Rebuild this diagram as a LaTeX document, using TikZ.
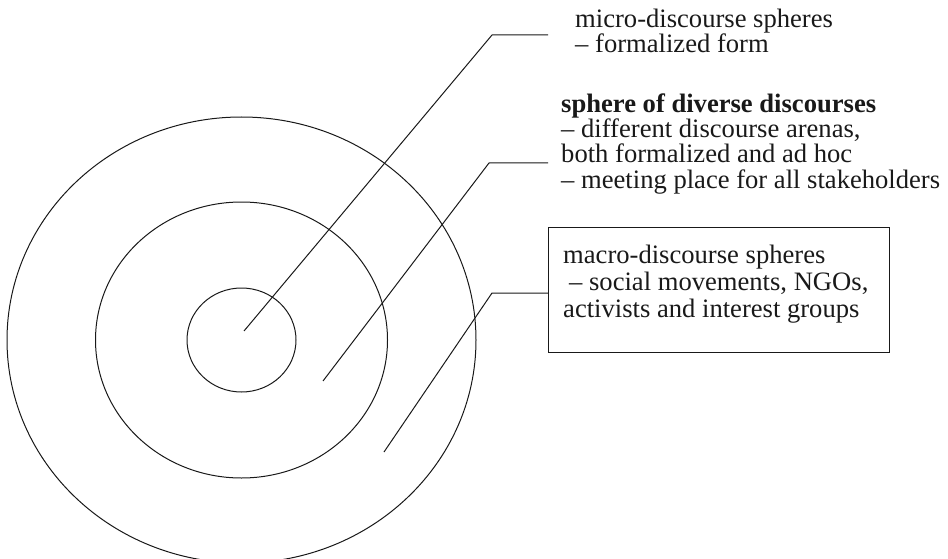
\documentclass[tikz,border=0pt]{standalone}
\usepackage{fontspec}
\setmainfont{Liberation Serif}
\begin{document}
\begin{tikzpicture}[x=1pt,y=-1pt,
  ln/.style={line width=1pt, draw=black!90},
  lbl/.style={anchor=base west, inner sep=0pt, align=left, text=black!90, font=\fontsize{26.6}{25.3}\selectfont},
  boxlbl/.style={lbl, font=\fontsize{26.6}{27}\selectfont}]
\useasboundingbox (0,0) rectangle (948,559);
% spheres
\draw[ln] (241.5,340) ellipse [x radius=234.5, y radius=223];
\draw[ln] (241.5,340) ellipse [x radius=146, y radius=138];
\draw[ln] (241.5,340) ellipse [x radius=54.5, y radius=52];
% labels (anchored at the baseline of their last line)
\node[lbl] (micro) at (575,53) {micro-discourse spheres\\– formalized form};
\node[lbl] (diverse) at (561,188) {\textbf{sphere of diverse discourses}\\– different discourse arenas,\\both formalized and ad hoc\\– meeting place for all stakeholders};
\node[ln, draw, rectangle, inner sep=0pt, minimum width=341, minimum height=125, anchor=north west] (box) at (548,227) {};
\node[boxlbl] (macro) at (563,317) {macro-discourse spheres\\\hspace*{6pt}– social movements, NGOs,\\activists and interest groups};
% connectors
\coordinate (p1) at (244,331);
\coordinate (c1) at (492,35);
\coordinate (e1) at (548,35);
\coordinate (p2) at (323,381);
\coordinate (c2) at (489,163);
\coordinate (e2) at (548,163);
\coordinate (p3) at (384,452);
\coordinate (c3) at (492,293);
\draw[ln] (p1) -- (c1) -- (e1);
\draw[ln] (p2) -- (c2) -- (e2);
\draw[ln] (p3) -- (c3) -- (c3 -| box.west);
\end{tikzpicture}
\end{document}
